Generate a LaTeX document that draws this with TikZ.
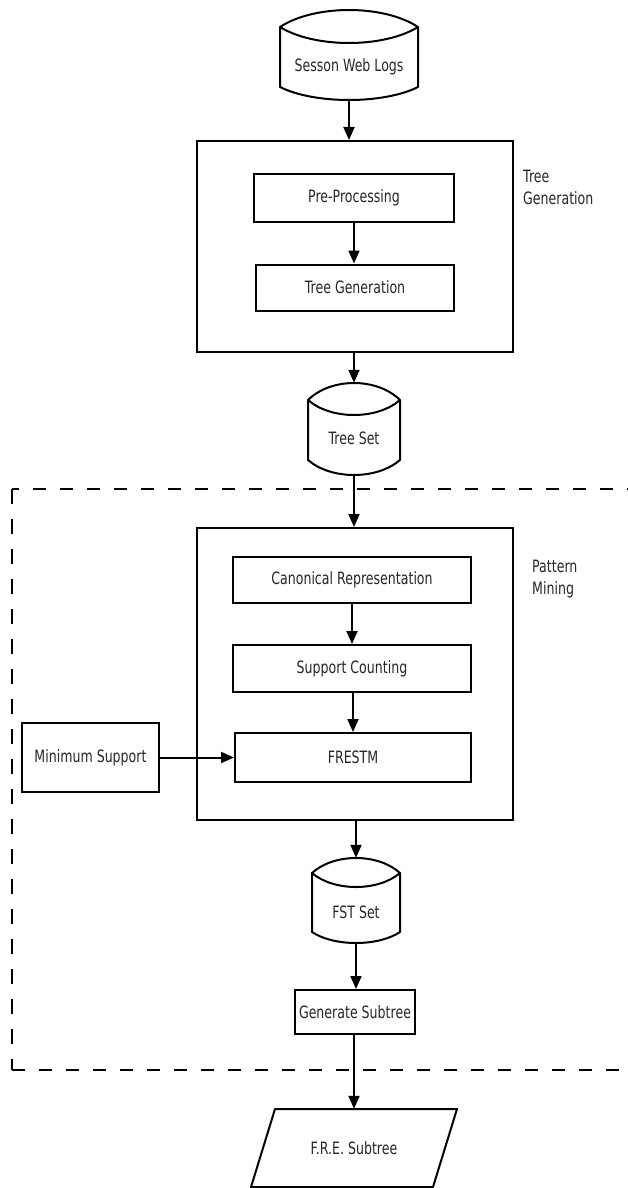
\documentclass[tikz,border=0pt]{standalone}
\usepackage{fontspec}
\setmainfont{DejaVu Sans}[FakeStretch=0.74]
\usetikzlibrary{arrows.meta}
\newcommand\cylpath[7]{% x1 x2 apex cap inner sidebot bot
  \draw[shapeline] (#1,#4) .. controls ({#1+0.25*(#2-#1)},{#4-4/3*(#4-#3)}) and ({#2-0.25*(#2-#1)},{#4-4/3*(#4-#3)}) .. (#2,#4)
    -- (#2,#6) .. controls ({#2-0.25*(#2-#1)},{#6+4/3*(#7-#6)}) and ({#1+0.25*(#2-#1)},{#6+4/3*(#7-#6)}) .. (#1,#6) -- cycle;
  \draw[shapeline] (#1,#4) .. controls ({#1+0.25*(#2-#1)},{#4+4/3*(#5-#4)}) and ({#2-0.25*(#2-#1)},{#4+4/3*(#5-#4)}) .. (#2,#4);
}
\begin{document}
\begin{tikzpicture}[x=1pt,y=-1pt,
  txt/.style={font=\fontsize{17}{22}\selectfont, text=black!85},
  shapeline/.style={line width=2pt, line join=round},
  box/.style={draw, line width=2pt, inner sep=0pt, txt},
  ghost/.style={inner sep=0pt, draw=none},
  arr/.style={line width=2pt, -{Triangle[length=13pt,width=11pt]}},
  side/.style={txt, align=left, anchor=north west, inner sep=0pt}]
\useasboundingbox (0,0) rectangle (628,1188);

% dashed frame
\draw[line width=2.6pt, dash pattern=on 13pt off 14pt] (640,489) -- (12,489);
\draw[line width=1.4pt, dash pattern=on 15pt off 15pt] (12,489) -- (12,1070);
\draw[line width=2.6pt, dash pattern=on 13pt off 14pt] (12,1070) -- (640,1070);

% Session web logs
\cylpath{280}{418}{10}{27}{43}{87}{100}
\node[ghost, minimum width=138pt, minimum height=90pt,
  label={[txt, yshift=-12pt]center:Sesson Web Logs}] (sess) at (349,55) {};

% Tree generation group
\node[box, minimum width=316pt, minimum height=211pt] (tg) at (355,246.5) {};
\node[box, minimum width=200pt, minimum height=48pt] (pre) at (354,198) {Pre-Processing};
\node[box, minimum width=198pt, minimum height=46pt] (tgen) at (355,287.5) {Tree Generation};
\node[side] (tglab) at (523,170) {Tree\\Generation};

% Tree set
\cylpath{308}{400}{383}{400}{415}{460}{475}
\node[ghost, minimum width=92pt, minimum height=92pt,
  label={[txt, yshift=-9pt]center:Tree Set}] (tset) at (354,429) {};

% Pattern mining group
\node[box, minimum width=316pt, minimum height=292pt] (pm) at (355,674) {};
\node[box, minimum width=238pt, minimum height=46pt] (canon) at (352,580) {Canonical Representation};
\node[box, minimum width=238pt, minimum height=47pt] (supp) at (352,668.5) {Support Counting};
\node[box, minimum width=236pt, minimum height=49pt] (fre1) at (353,757.5) {FRESTM};
\node[box, minimum width=137pt, minimum height=69pt] (minsup) at (90.5,757.5) {Minimum Support};
\node[side] (pmlab) at (532,560) {Pattern\\Mining};

% FST set
\cylpath{312}{400}{858}{873}{887}{932}{943}
\node[ghost, minimum width=88pt, minimum height=85pt,
  label={[txt, yshift=-11.5pt]center:FST Set}] (fst) at (356,900.5) {};

% Generate subtree
\node[box, minimum width=120pt, minimum height=44pt] (gen) at (355,1012) {Generate Subtree};

% F.R.E. Subtree (parallelogram)
\draw[shapeline] (275,1109) -- (457,1109) -- (433,1187) -- (251,1187) -- cycle;
\node[ghost, txt, minimum width=182pt, minimum height=78pt] (fre) at (354,1148) {F.R.E. Subtree};

% connectors
\draw[arr] (sess.south) -- (sess.south |- tg.north);
\draw[arr] (pre.south -| 354,0) -- (tgen.north -| 354,0);
\draw[arr] (tg.south -| tset.north) -- (tset.north);
\draw[arr] (tset.south) -- (tset.south |- pm.north);
\draw[arr] (canon.south -| supp.north) -- (supp.north);
\draw[arr] (supp.south) -- (supp.south -| fre1.north) -- (fre1.north);
\draw[arr] (minsup.east) -- (fre1.west);
\draw[arr] (pm.south -| fst.north) -- (fst.north);
\draw[arr] (fst.south) -- (fst.south |- gen.north);
\draw[arr] (gen.south -| fre.north) -- (fre.north);
\end{tikzpicture}
\end{document}
